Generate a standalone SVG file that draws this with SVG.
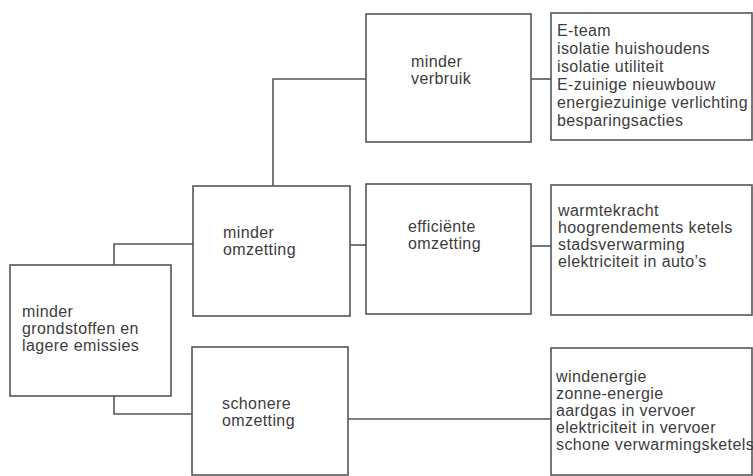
<svg xmlns="http://www.w3.org/2000/svg" width="753" height="476" viewBox="0 0 753 476">
<style>
.box{fill:#fff;stroke:#555;stroke-width:1.6}
.con{fill:none;stroke:#555;stroke-width:1.6}
text{font-family:"Liberation Sans",Arial,sans-serif;font-size:16px;letter-spacing:0.4px;fill:#3c3c3c}
</style>
<rect width="753" height="476" fill="#fff"/>
<g id="connectors">
<path class="con" d="M114,265 V244 H193"/>
<path class="con" d="M114,396 V414 H192"/>
<path class="con" d="M273,186 V79 H366"/>
<path class="con" d="M350,245 H366"/>
<path class="con" d="M531,79 H551"/>
<path class="con" d="M531,246 H551"/>
<path class="con" d="M348,419 H551"/>
</g>
<g id="root">
<rect class="box" x="10" y="265" width="161" height="131"/>
<text x="22" y="317">minder</text>
<text x="22" y="334">grondstoffen en</text>
<text x="22" y="351">lagere emissies</text>
</g>
<g id="minder-omzetting">
<rect class="box" x="193" y="186" width="157" height="130"/>
<text x="223" y="238">minder</text>
<text x="223" y="255">omzetting</text>
</g>
<g id="schonere-omzetting">
<rect class="box" x="192" y="347" width="156" height="128"/>
<text x="222" y="409">schonere</text>
<text x="222" y="426">omzetting</text>
</g>
<g id="minder-verbruik">
<rect class="box" x="366" y="14" width="165" height="128"/>
<text x="411" y="67">minder</text>
<text x="411" y="84">verbruik</text>
</g>
<g id="efficiente-omzetting">
<rect class="box" x="366" y="184" width="165" height="130"/>
<text x="408" y="232">efficiënte</text>
<text x="408" y="249">omzetting</text>
</g>
<g id="list-verbruik">
<rect class="box" x="551" y="13" width="201" height="127"/>
<text x="557" y="36">E-team</text>
<text x="557" y="54">isolatie huishoudens</text>
<text x="557" y="72">isolatie utiliteit</text>
<text x="557" y="90">E-zuinige nieuwbouw</text>
<text x="557" y="108">energiezuinige verlichting</text>
<text x="557" y="126">besparingsacties</text>
</g>
<g id="list-efficient">
<rect class="box" x="551" y="185" width="201" height="130"/>
<text x="558" y="216">warmtekracht</text>
<text x="558" y="233">hoogrendements ketels</text>
<text x="558" y="250">stadsverwarming</text>
<text x="558" y="267">elektriciteit in auto’s</text>
</g>
<g id="list-schoon">
<rect class="box" x="551" y="348" width="201" height="127"/>
<text x="556" y="382">windenergie</text>
<text x="556" y="399">zonne-energie</text>
<text x="556" y="416">aardgas in vervoer</text>
<text x="556" y="433">elektriciteit in vervoer</text>
<text x="556" y="450">schone verwarmingsketels</text>
</g>
</svg>
